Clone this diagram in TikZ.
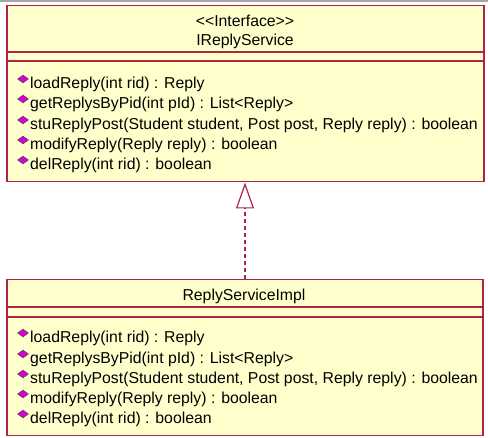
\documentclass[tikz,border=0pt]{standalone}
\usepackage{fontspec}
\setmainfont{Liberation Sans}[Ligatures=TeXOff]
\usetikzlibrary{arrows.meta, shapes.geometric}

\definecolor{umlred}{RGB}{175,35,75}
\definecolor{umlfill}{RGB}{255,255,204}
\definecolor{opmag}{RGB}{215,0,215}

\tikzset{
  umlbox/.style={draw=umlred, fill=umlfill, line width=1.5pt, rectangle, inner sep=0pt, anchor=north west},
  sepline/.style={draw=umlred, line width=1.5pt},
  optext/.style={anchor=west, inner sep=0pt, font=\fontsize{15.8}{18}\selectfont},
  headtext/.style={inner sep=0pt, font=\fontsize{15.8}{18}\selectfont},
  opicon/.style={diamond, draw=black!70, fill=opmag, line width=0.5pt, inner sep=0pt, minimum width=11pt, minimum height=8pt}
}

\begin{document}
\begin{tikzpicture}[x=1pt, y=-1pt]

          \useasboundingbox (0, 0) rectangle (488, 438);
          \draw[black!35, line width=1.5pt] (0, 1) -- (488, 1);

          % interface
          \node[umlbox, minimum width=477pt, minimum height=176pt] (iface) at (6, 5) {};
          \draw[sepline] (6, 52) -- (483, 52);
          \draw[sepline] (6, 61) -- (483, 61);
          \node[headtext] (ifacestereo) at (245, 21) {<<Interface>>};
          \node[headtext] (ifacename) at (245, 41) {IReplyService};

          \node[opicon] (ia) at (23, 79) {}; \node[optext] (iopa) at (30, 84) {loadReply(int rid) : Reply};
          \node[opicon] (ib) at (23, 99) {}; \node[optext] (iopb) at (30, 104) {getReplysByPid(int pId) : List<Reply>};
          \node[opicon] (ic) at (23, 120) {}; \node[optext] (iopc) at (30, 125) {stuReplyPost(Student student, Post post, Reply reply) : boolean};
          \node[opicon] (id) at (23, 140) {}; \node[optext] (iopd) at (30, 145) {modifyReply(Reply reply) : boolean};
          \node[opicon] (ie) at (23, 160) {}; \node[optext] (iope) at (30, 165) {delReply(int rid) : boolean};

          % implementation
          \node[umlbox, minimum width=476pt, minimum height=156pt] (impl) at (6, 279) {};
          \draw[sepline] (6, 307) -- (482, 307);
          \draw[sepline] (6, 317) -- (482, 317);
          \node[headtext] (implname) at (244, 296) {ReplyServiceImpl};

          \node[opicon] (ma) at (23, 333) {}; \node[optext] (mopa) at (30, 338) {loadReply(int rid) : Reply};
          \node[opicon] (mb) at (23, 354) {}; \node[optext] (mopb) at (30, 359) {getReplysByPid(int pId) : List<Reply>};
          \node[opicon] (mc) at (23, 374) {}; \node[optext] (mopc) at (30, 379) {stuReplyPost(Student student, Post post, Reply reply) : boolean};
          \node[opicon] (md) at (23, 394) {}; \node[optext] (mopd) at (30, 399) {modifyReply(Reply reply) : boolean};
          \node[opicon] (me) at (23, 414) {}; \node[optext] (mope) at (30, 419) {delReply(int rid) : boolean};

          \draw[umlred, line width=1.2pt, dash pattern=on 4pt off 3pt, -{Triangle[open, length=26pt, width=18pt]}]
            (impl.north -| ifacename) -- (iface.south -| ifacename);

\end{tikzpicture}
\end{document}
